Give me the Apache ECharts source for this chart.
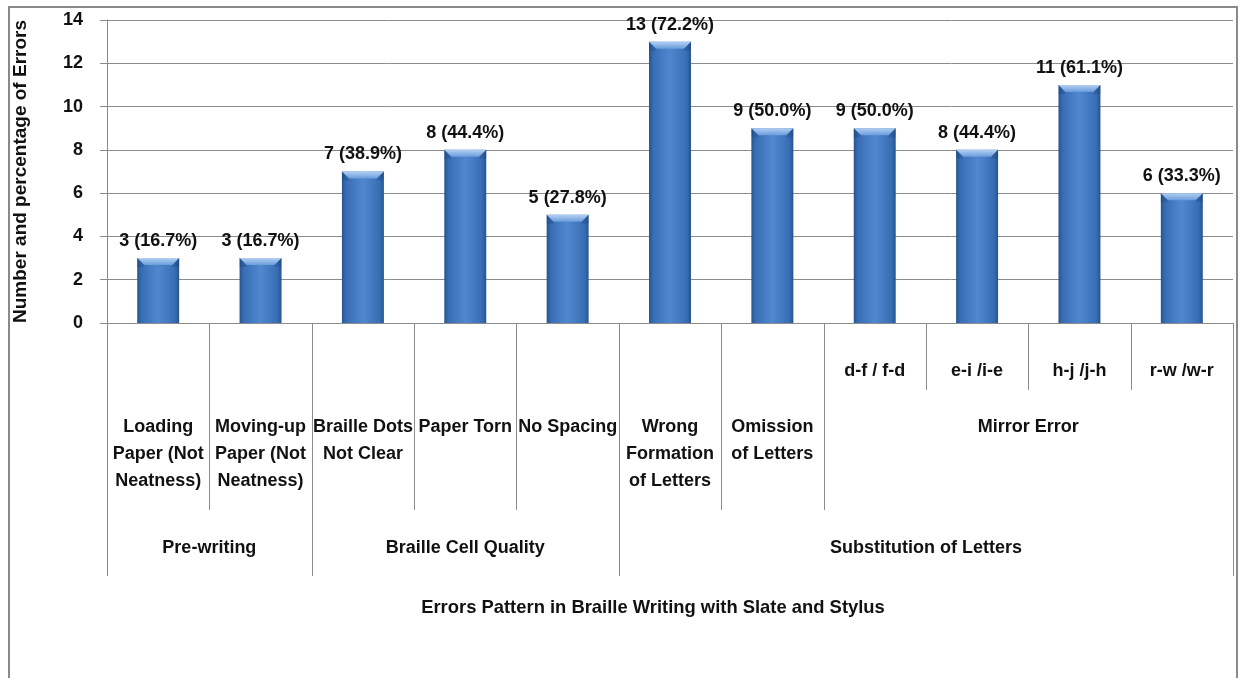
<!DOCTYPE html>
<html>
<head>
<meta charset="utf-8">
<script src="https://cdn.jsdelivr.net/npm/echarts@6/dist/echarts.min.js"></script>
<style>
  html, body { margin: 0; padding: 0; background: #ffffff; }
  #chart { width: 1242px; height: 678px; }
</style>
</head>
<body>
<div id="chart"></div>
<script>
// Error types (leaf level of the category axis)
const categories = [
  'Loading\nPaper (Not\nNeatness)',
  'Moving-up\nPaper (Not\nNeatness)',
  'Braille Dots\nNot Clear',
  'Paper Torn',
  'No Spacing',
  'Wrong\nFormation\nof Letters',
  'Omission\nof Letters',
  'd-f / f-d',
  'e-i /i-e',
  'h-j /j-h',
  'r-w /w-r'
];
// Number of errors and the matching percentage
const counts = [3, 3, 7, 8, 5, 13, 9, 9, 8, 11, 6];
const percents = [16.7, 16.7, 38.9, 44.4, 27.8, 72.2, 50.0, 50.0, 44.4, 61.1, 33.3];
// Middle level: sub-group spanning several leaves
const subGroups = [{ name: 'Mirror Error', from: 7, to: 10 }];
// Top level groups
const groups = [
  { name: 'Pre-writing', from: 0, to: 1 },
  { name: 'Braille Cell Quality', from: 2, to: 4 },
  { name: 'Substitution of Letters', from: 5, to: 10 }
];
const yTicks = [0, 2, 4, 6, 8, 10, 12, 14];
const xTitle = 'Errors Pattern in Braille Writing with Slate and Stylus';
const yTitle = 'Number and percentage of Errors';

const FONT = '"Liberation Sans", Arial, sans-serif';
const LINE = '#8c8c8c';

const chart = echarts.init(document.getElementById('chart'), null, { renderer: 'canvas' });

const barFill = new echarts.graphic.LinearGradient(0, 0, 1, 0, [
  { offset: 0, color: '#25558f' },
  { offset: 0.1, color: '#386db4' },
  { offset: 0.5, color: '#5088cf' },
  { offset: 0.9, color: '#386db4' },
  { offset: 1, color: '#25558f' }
]);

chart.setOption({
  animation: false,
  grid: { left: 107, right: 9, top: 20, bottom: 355, containLabel: false },
  xAxis: {
    type: 'category',
    data: categories,
    axisLine: { show: true, lineStyle: { color: LINE, width: 1 } },
    axisTick: { show: false },
    axisLabel: { show: false },
    splitLine: { show: false }
  },
  yAxis: {
    type: 'value',
    min: 0,
    max: 14,
    interval: 2,
    name: yTitle,
    nameLocation: 'middle',
    nameRotate: 90,
    nameGap: 77,
    nameTextStyle: { fontFamily: FONT, fontWeight: 'bold', fontSize: 19, color: '#111' },
    axisLine: { show: true, lineStyle: { color: LINE, width: 1 } },
    axisTick: { show: true, length: 7, lineStyle: { color: LINE } },
    axisLabel: {
      fontFamily: FONT, fontWeight: 'bold', fontSize: 18, color: '#111', margin: 24,
      formatter: v => (yTicks.indexOf(v) >= 0 ? String(v) : '')
    },
    splitLine: { show: true, lineStyle: { color: LINE, width: 1 } }
  },
  series: [
    {
      type: 'bar',
      data: counts,
      barWidth: '41%',
      itemStyle: { color: barFill },
      label: {
        show: true,
        position: 'top',
        distance: 8,
        fontFamily: FONT, fontWeight: 'bold', fontSize: 18, color: '#111',
        formatter: p => counts[p.dataIndex] + ' (' + percents[p.dataIndex].toFixed(1) + '%)'
      },
      z: 2
    },
    {
      // bevelled highlight along the top of each bar
      type: 'custom',
      silent: true,
      z: 3,
      data: counts.map((v, i) => [i, v]),
      renderItem: function (params, api) {
        const top = api.coord([api.value(0), api.value(1)]);
        const bw = api.size([1, 0])[0] * 0.41;
        const l = top[0] - bw / 2, r = top[0] + bw / 2, t = top[1];
        const d = 7;
        return {
          type: 'group',
          children: [
            {
              type: 'polygon',
              shape: { points: [[l, t], [r, t], [r - d, t + d], [l + d, t + d]] },
              style: {
                fill: new echarts.graphic.LinearGradient(0, 0, 0, 1, [
                  { offset: 0, color: '#b3d0f2' },
                  { offset: 1, color: '#6a9cdc' }
                ])
              }
            },
            {
              type: 'polygon',
              shape: { points: [[l, t], [l + d, t + d], [l + d, t + d + 2], [l, t + d + 2]] },
              style: { fill: 'rgba(20,50,100,0.22)' }
            },
            {
              type: 'polygon',
              shape: { points: [[r, t], [r - d, t + d], [r - d, t + d + 2], [r, t + d + 2]] },
              style: { fill: 'rgba(20,50,100,0.22)' }
            }
          ]
        };
      }
    }
  ]
});

// Multi-level category axis drawn below the plot
function buildAxisGraphics() {
  const cx0 = chart.convertToPixel({ xAxisIndex: 0 }, 0);
  const cx1 = chart.convertToPixel({ xAxisIndex: 0 }, 1);
  const band = cx1 - cx0;
  const y0 = chart.convertToPixel({ yAxisIndex: 0 }, 0);
  const leftEdge = i => chart.convertToPixel({ xAxisIndex: 0 }, i) - band / 2;
  const rightEdge = i => chart.convertToPixel({ xAxisIndex: 0 }, i) + band / 2;

  const inSub = i => subGroups.some(s => i >= s.from && i <= s.to);
  const groupStart = i => groups.some(g => g.from === i);
  const subStart = i => subGroups.some(s => s.from === i);

  const els = [];
  const vline = (x, len) => els.push({
    type: 'line',
    shape: { x1: x, y1: y0, x2: x, y2: y0 + len },
    style: { stroke: LINE, lineWidth: 1 },
    silent: true
  });
  const text = (x, y, str, vAlign, size) => els.push({
    type: 'text',
    x: x, y: y,
    style: {
      text: str, fill: '#111',
      font: 'bold ' + (size || 18) + 'px ' + FONT,
      align: 'center', verticalAlign: vAlign || 'middle',
      lineHeight: 27
    },
    silent: true
  });

  // separators at each category boundary, length set by hierarchy level
  for (let i = 0; i <= categories.length; i++) {
    const x = i < categories.length ? leftEdge(i) : rightEdge(categories.length - 1);
    let len;
    if (i === 0 || i === categories.length || groupStart(i)) len = 253;
    else if (inSub(i) && inSub(i - 1) && !subStart(i)) len = 67;
    else len = 187;
    vline(Math.round(x) + 0.5, len);
  }

  // leaf labels
  categories.forEach((c, i) => {
    const cx = chart.convertToPixel({ xAxisIndex: 0 }, i);
    if (inSub(i)) text(cx, y0 + 48, c);
    else text(cx, y0 + 91, c, 'top');
  });
  // sub-group labels
  subGroups.forEach(s => {
    text((leftEdge(s.from) + rightEdge(s.to)) / 2, y0 + 91, s.name, 'top');
  });
  // group labels
  groups.forEach(g => {
    text((leftEdge(g.from) + rightEdge(g.to)) / 2, y0 + 225, g.name);
  });
  // axis title, centred a little left of the plot centre
  text((leftEdge(0) + rightEdge(categories.length - 1)) / 2 - 17, y0 + 285, xTitle, 'middle', 18.4);

  // outer chart frame
  els.push({
    type: 'rect',
    shape: { x: 9, y: 7, width: 1228, height: 700 },
    style: { fill: 'none', stroke: '#8a8a8a', lineWidth: 2 },
    silent: true,
    z: -1
  });

  chart.setOption({ graphic: { elements: els } });
}
buildAxisGraphics();
</script>
</body>
</html>
